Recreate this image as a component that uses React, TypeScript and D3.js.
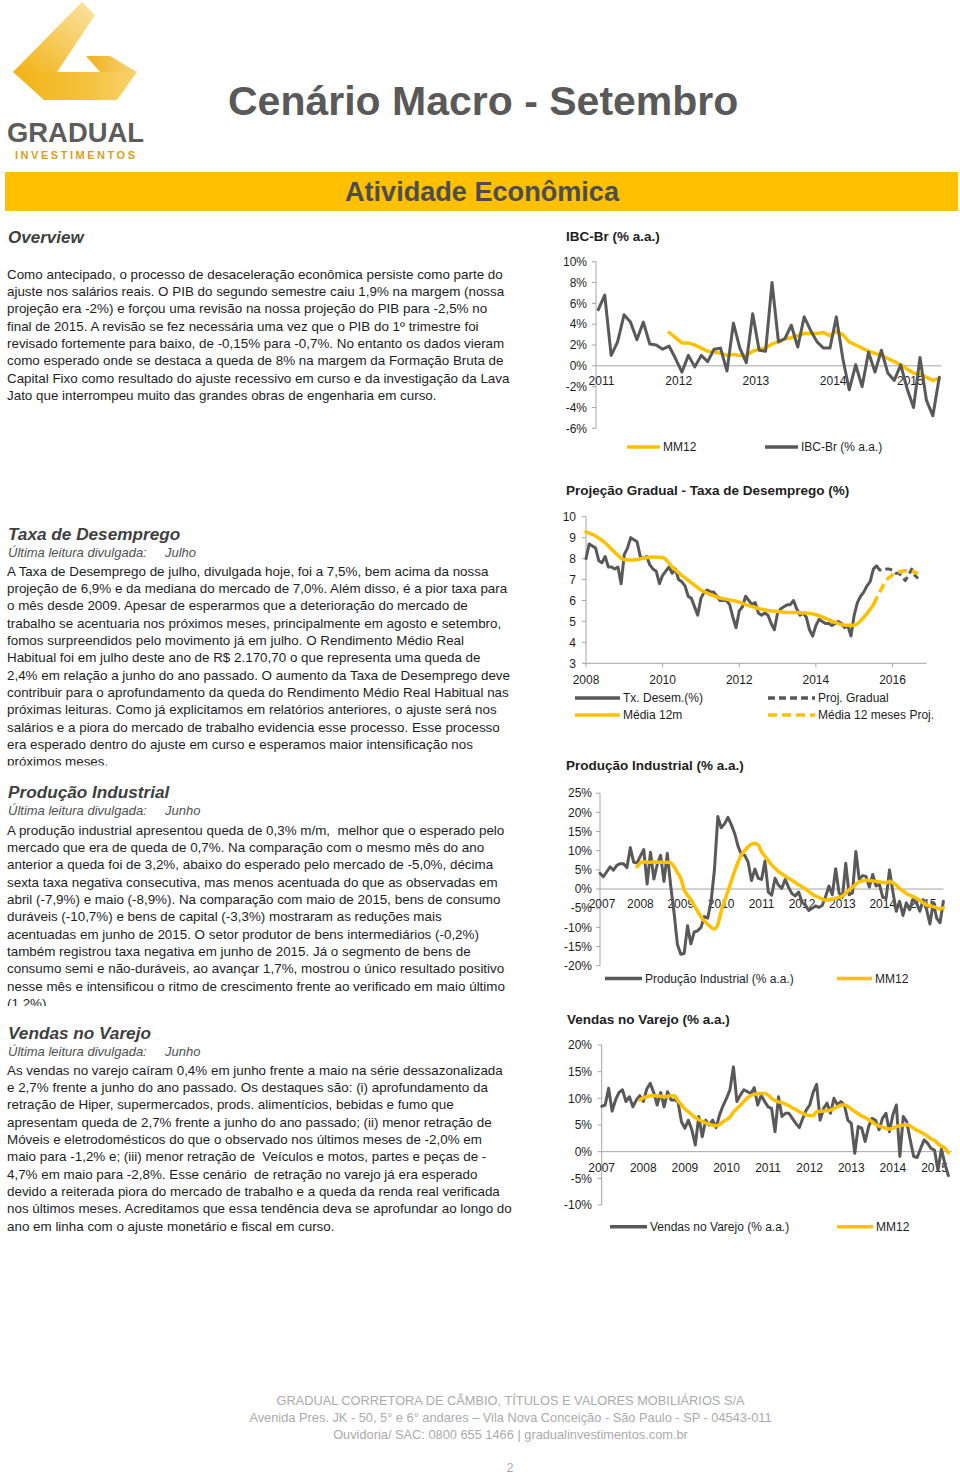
import React from 'react';
import * as d3 from 'd3';

const FONT = "'Liberation Sans', Arial, Helvetica, sans-serif";
const DARK = '#595959';
const GOLD = '#FFC000';
const AXIS = '#a6a6a6';
const TXT = '#1e1e1e';
const HEAD = '#404040';

// ---------------- DATA ----------------
// IBC-Br (% a.a.), monthly from Jan 2011
const ibcYears = ['2011', '2012', '2013', '2014', '2015'];
const ibcTicks = [10, 8, 6, 4, 2, 0, -2, -4, -6];
const ibcValues = [5.4, 6.8, 1.0, 2.3, 4.9, 4.2, 2.5, 4.2, 2.1, 2.0, 1.6, 1.9, 0.7, -0.6, 1.0, -0.1, 1.0, 0.4, 1.6, 1.7,
  -0.5, 4.1, 1.7, 0.3, 5.0, 1.5, 1.4, 8.0, 2.3, 2.6, 3.9, 1.8, 4.7, 3.4, 2.3, 1.7, 1.7, 4.7, 0.7, -2.3,
  0.1, -2.0, 1.3, -0.6, 1.5, -0.7, -1.4, 0.1, -2.2, -4.0, 0.8, -3.3, -4.8, -1.1];
const ibcMM12Start = 11;
const ibcMM12 = [3.2, 2.7, 2.2, 2.2, 2.0, 1.7, 1.4, 1.35, 1.2, 1.0, 1.1, 1.0, 1.0, 1.4, 1.6, 1.7, 2.1, 2.3, 2.6, 2.7,
  2.9, 3.1, 3.1, 3.1, 3.2, 2.9, 3.3, 3.0, 2.3, 2.0, 1.7, 1.4, 1.2, 1.0, 0.7, 0.4, 0.1, -0.3, -0.7, -0.8,
  -1.1, -1.4, -1.2];

// Taxa de desemprego, monthly from Jan 2008
const desYears = ['2008', '2010', '2012', '2014', '2016'];
const desTicks = [10, 9, 8, 7, 6, 5, 4, 3];
const desValues = [
  8.0, 8.7, 8.6, 8.5, 7.9, 7.8, 8.1, 7.6, 7.6, 7.5, 7.6, 6.8,
  8.2, 8.5, 9.0, 8.9, 8.8, 8.1, 8.0, 8.1, 7.7, 7.5, 7.4, 6.8,
  7.2, 7.4, 7.6, 7.3, 7.5, 7.0, 6.9, 6.7, 6.2, 6.1, 5.7, 5.3,
  6.1, 6.4, 6.5, 6.4, 6.4, 6.2, 6.0, 6.0, 6.0, 5.8, 5.2, 4.7,
  5.5, 5.7, 6.2, 6.0, 5.8, 5.9, 5.4, 5.3, 5.4, 5.3, 4.9, 4.6,
  5.4, 5.6, 5.7, 5.8, 5.8, 6.0, 5.6, 5.3, 5.4, 5.2, 4.6, 4.3,
  4.8, 5.1, 5.0, 4.9, 4.9, 4.8, 4.9, 5.0, 4.9, 4.7, 4.8, 4.3,
  5.3, 5.9, 6.2, 6.4, 6.7, 6.9, 7.5, 7.65];
const desProjStart = 91;
const desProj = [7.65, 7.45, 7.45, 7.5, 7.5, 7.45, 7.3, 7.3, 7.15, 6.95, 7.2, 7.5, 7.2, 7.05];
const desMediaStep = 3; // one value every 3 months from Jan 2008
const desMedia = [9.28, 9.08, 8.75, 8.3, 7.95, 7.93, 8.02, 8.07, 8.05, 7.6, 7.2, 6.85, 6.5, 6.28, 6.12, 6.03,
  5.92, 5.75, 5.62, 5.52, 5.47, 5.43, 5.42, 5.4, 5.32, 5.15, 4.95, 4.82, 4.82, 5.2, 5.8];
const desMediaProjStart = 90;
const desMediaProjStep = 2;
const desMediaProj = [5.8, 6.4, 6.95, 7.22, 7.36, 7.42, 7.4, 7.28];

// Produção industrial (% a.a.), monthly from Jan 2007
const ipYears = ['2007', '2008', '2009', '2010', '2011', '2012', '2013', '2014', '2015'];
const ipTicks = [25, 20, 15, 10, 5, 0, -5, -10, -15, -20];
const ipValues = [
  4.1, 3.2, 4.5, 5.8, 4.9, 6.2, 6.6, 6.6, 5.6, 10.8, 7.0, 6.8,
  8.6, 10.3, 1.3, 9.6, 2.6, 6.4, 8.8, 2.0, 9.3, 0.8, -6.2, -14.5,
  -17.0, -16.8, -9.6, -14.3, -11.2, -10.9, -10.0, -7.2, -7.6, -3.2, 5.1, 18.9,
  16.0, 17.0, 18.7, 16.8, 14.5, 11.2, 9.0, 8.8, 7.0, 2.2, 5.2, 2.8,
  2.5, 7.3, -0.8, -1.6, 2.8, 1.0, 0.2, 2.5, 0.5, -1.2, -1.8, -0.8,
  -3.4, -4.2, -5.6, -5.0, -4.4, -4.8, -4.3, -2.0, 0.8, -1.5, 5.3, -1.0,
  -2.2, 6.7, -1.5, -1.0, 9.8, 2.5, 3.5, 3.3, 0.5, 3.8, 0.8, 1.2,
  -2.2, -2.3, 5.0, -0.8, -5.8, -3.2, -6.9, -3.6, -5.4, -2.5, -3.6, -5.8,
  -2.8, -5.3, -9.1, -3.5, -7.6, -8.8, -3.2];
const ipMM12Start = 11;
const ipMM12 = [5.8, 6.8, 7.1, 7.0, 7.0, 7.1, 7.0, 7.0, 7.0, 7.0, 6.8, 5.8, 4.3,
  2.8, -0.2, -1.6, -2.8, -4.3, -5.8, -7.2, -8.3, -9.2, -10.0, -10.4, -9.2,
  -5.8, -3.1, -0.5, 2.1, 4.7, 7.0, 8.9, 10.1, 11.0, 11.7, 11.9, 11.5,
  9.7, 8.6, 7.4, 6.3, 5.4, 4.6, 4.0, 3.4, 2.8, 2.3, 1.7, 1.1,
  0.6, 0.0, -0.6, -1.3, -1.8, -2.2, -2.6, -2.9, -2.8, -2.6, -2.4, -2.2,
  -1.8, -1.1, -0.2, 0.5, 1.2, 1.9, 2.1, 2.3, 2.2, 2.1, 2.0, 1.9,
  1.7, 1.6, 2.0, 1.6, 1.0, 0.1, -0.5, -1.2, -1.6, -2.0, -2.4, -2.9,
  -3.6, -4.2, -4.4, -4.6, -4.9, -5.2, -4.9];

// Vendas no varejo (% a.a.), monthly from Jan 2007
const vYears = ['2007', '2008', '2009', '2010', '2011', '2012', '2013', '2014', '2015'];
const vTicks = [20, 15, 10, 5, 0, -5, -10];
const vValues = [
  8.5, 8.75, 11.9, 7.6, 9.7, 11.1, 11.6, 9.4, 10.3, 8.4, 9.7, 10.5,
  9.4, 11.75, 12.8, 11.1, 8.75, 11.1, 8.4, 11.25, 9.7, 9.7, 9.4, 5.6,
  4.4, 5.9, 4.1, 1.25, 6.6, 2.8, 5.9, 5.0, 5.9, 4.5, 6.9, 8.6,
  10.0, 11.6, 15.9, 9.4, 10.6, 11.6, 11.25, 10.9, 12.0, 8.75, 10.6, 9.4,
  8.4, 8.1, 3.75, 10.3, 6.6, 7.2, 7.2, 6.25, 5.3, 4.5, 6.25, 7.8,
  8.75, 11.1, 12.6, 5.9, 8.1, 9.1, 7.2, 10.0, 8.75, 9.4, 8.75, 5.9,
  5.3, -0.3, 4.7, 4.4, 1.9, 4.7, 6.25, 5.9, 4.1, 6.25, 7.2, 3.75,
  6.9, 8.75, -0.9, 6.6, 5.6, 2.2, -0.9, -1.1, 0.6, 2.2, 1.6, 0.6,
  0.3, -3.5, 0.5, -2.3, -4.5];
const vMM12Start = 11;
const vMM12 = [9.7, 10.1, 10.3, 10.5, 10.5, 10.5, 10.4, 10.3, 10.4, 10.5,
  10.5, 9.5, 8.8, 8.0, 7.5, 6.9, 6.4, 6.0, 5.7, 5.4,
  5.2, 4.95, 4.9, 5.1, 5.6, 6.0, 6.5, 7.4, 8.1, 8.7,
  9.4, 10.1, 10.5, 10.7, 10.9, 10.9, 10.9, 10.6, 10.0, 9.6,
  9.35, 9.2, 8.9, 8.6, 8.2, 7.9, 7.5, 7.2, 6.9, 6.8,
  6.8, 7.5, 7.55, 7.6, 7.7, 7.8, 8.1, 8.4, 8.7, 8.8,
  8.5, 8.0, 7.5, 7.1, 6.7, 6.4, 6.0, 5.6, 5.1, 4.8,
  4.6, 4.4, 4.25, 4.4, 4.7, 4.9, 5.0, 5.1, 4.8, 4.4,
  4.0, 3.7, 3.3, 2.9, 2.4, 2.1, 1.5, 1.0, 0.7, -0.2];

// ---------------- TEXT ----------------
const overviewLines = [
  'Como antecipado, o processo de desaceleração econômica persiste como parte do',
  'ajuste nos salários reais. O PIB do segundo semestre caiu 1,9% na margem (nossa',
  'projeção era -2%) e forçou uma revisão na nossa projeção do PIB para -2,5% no',
  'final de 2015. A revisão se fez necessária uma vez que o PIB do 1º trimestre foi',
  'revisado fortemente para baixo, de -0,15% para -0,7%. No entanto os dados vieram',
  'como esperado onde se destaca a queda de 8% na margem da Formação Bruta de',
  'Capital Fixo como resultado do ajuste recessivo em curso e da investigação da Lava',
  'Jato que interrompeu muito das grandes obras de engenharia em curso.',
];
const taxaLines = [
  'A Taxa de Desemprego de julho, divulgada hoje, foi a 7,5%, bem acima da nossa',
  'projeção de 6,9% e da mediana do mercado de 7,0%. Além disso, é a pior taxa para',
  'o mês desde 2009. Apesar de esperarmos que a deterioração do mercado de',
  'trabalho se acentuaria nos próximos meses, principalmente em agosto e setembro,',
  'fomos surpreendidos pelo movimento já em julho. O Rendimento Médio Real',
  'Habitual foi em julho deste ano de R$ 2.170,70 o que representa uma queda de',
  '2,4% em relação a junho do ano passado. O aumento da Taxa de Desemprego deve',
  'contribuir para o aprofundamento da queda do Rendimento Médio Real Habitual nas',
  'próximas leituras. Como já explicitamos em relatórios anteriores, o ajuste será nos',
  'salários e a piora do mercado de trabalho evidencia esse processo. Esse processo',
  'era esperado dentro do ajuste em curso e esperamos maior intensificação nos',
  'próximos meses.',
];
const ipLines = [
  'A produção industrial apresentou queda de 0,3% m/m,  melhor que o esperado pelo',
  'mercado que era de queda de 0,7%. Na comparação com o mesmo mês do ano',
  'anterior a queda foi de 3,2%, abaixo do esperado pelo mercado de -5,0%, décima',
  'sexta taxa negativa consecutiva, mas menos acentuada do que as observadas em',
  'abril (-7,9%) e maio (-8,9%). Na comparação com maio de 2015, bens de consumo',
  'duráveis (-10,7%) e bens de capital (-3,3%) mostraram as reduções mais',
  'acentuadas em junho de 2015. O setor produtor de bens intermediários (-0,2%)',
  'também registrou taxa negativa em junho de 2015. Já o segmento de bens de',
  'consumo semi e não-duráveis, ao avançar 1,7%, mostrou o único resultado positivo',
  'nesse mês e intensificou o ritmo de crescimento frente ao verificado em maio último',
  '(1,2%).',
];
const varejoLines = [
  'As vendas no varejo caíram 0,4% em junho frente a maio na série dessazonalizada',
  'e 2,7% frente a junho do ano passado. Os destaques são: (i) aprofundamento da',
  'retração de Hiper, supermercados, prods. alimentícios, bebidas e fumo que',
  'apresentam queda de 2,7% frente a junho do ano passado; (ii) menor retração de',
  'Móveis e eletrodomésticos do que o observado nos últimos meses de -2,0% em',
  'maio para -1,2% e; (iii) menor retração de  Veículos e motos, partes e peças de -',
  '4,7% em maio para -2,8%. Esse cenário  de retração no varejo já era esperado',
  'devido a reiterada piora do mercado de trabalho e a queda da renda real verificada',
  'nos últimos meses. Acreditamos que essa tendência deva se aprofundar ao longo do',
  'ano em linha com o ajuste monetário e fiscal em curso.',
];
const footerLines = [
  'GRADUAL CORRETORA DE CÂMBIO, TÍTULOS E VALORES MOBILIÁRIOS S/A',
  'Avenida Pres. JK - 50, 5° e 6° andares – Vila Nova Conceição - São Paulo - SP - 04543-011',
  'Ouvidoria/ SAC: 0800 655 1466 | gradualinvestimentos.com.br',
];

// ---------------- HELPERS ----------------
type Sc = d3.ScaleLinear<number, number>;

function Series({ values, start, step = 1, x, y, color, width, dash, curve }:
  { values: number[]; start: number; step?: number; x: Sc; y: Sc; color: string; width: number; dash?: string; curve?: boolean }) {
  const gen = d3.line<number>().x((_, i) => x(start + i * step)).y((d) => y(d));
  if (curve) gen.curve(d3.curveMonotoneX);
  return <path d={gen(values) || ''} fill="none" stroke={color} strokeWidth={width} strokeDasharray={dash}
    strokeLinejoin="round" strokeLinecap={dash ? 'butt' : 'round'} />;
}

function YAxis({ x, y, ticks, fmt, labelX }: { x: number; y: Sc; ticks: number[]; fmt: (v: number) => string; labelX: number }) {
  const [a, b] = d3.extent(ticks) as [number, number];
  return (
    <g>
      <line x1={x} x2={x} y1={y(a)} y2={y(b)} stroke={AXIS} strokeWidth={1} />
      {ticks.map((t) => (
        <g key={t}>
          <line x1={x - 4} x2={x} y1={y(t)} y2={y(t)} stroke={AXIS} />
          <text x={labelX} y={y(t)} dy="0.35em" textAnchor="end" fontSize={12} fill={TXT}>{fmt(t)}</text>
        </g>
      ))}
    </g>
  );
}

function Legend({ items }: { items: { x1: number; x2: number; y: number; color: string; dash?: string; label: string }[] }) {
  return (
    <g>
      {items.map((it, k) => (
        <g key={k}>
          <line x1={it.x1} x2={it.x2} y1={it.y} y2={it.y} stroke={it.color} strokeWidth={3.5} strokeDasharray={it.dash} />
          <text x={it.x2 + 3} y={it.y} dy="0.36em" fontSize={12} fill={TXT}>{it.label}</text>
        </g>
      ))}
    </g>
  );
}

function Para({ lines, x, y0, lh = 17.35 }: { lines: string[]; x: number; y0: number; lh?: number }) {
  return (
    <g>
      {lines.map((l, i) => (
        <text key={i} x={x} y={y0 + i * lh} fontSize={13.4} fill={TXT} style={{ whiteSpace: 'pre' }}>{l}</text>
      ))}
    </g>
  );
}

function Section({ title, month, y, monthX = 165 }: { title: string; month: string; y: number; monthX?: number }) {
  return (
    <g>
      <text x={8} y={y} fontSize={17.2} fontWeight="bold" fontStyle="italic" fill={HEAD}>{title}</text>
      <text x={8} y={y + 17} fontSize={13} fontStyle="italic" fill="#505050">Última leitura divulgada:</text>
      <text x={monthX} y={y + 17} fontSize={13} fontStyle="italic" fill="#505050">{month}</text>
    </g>
  );
}

// ---------------- SCALES ----------------
const ibcX = d3.scaleLinear().domain([0, 53]).range([598.3, 939.3]);
const ibcY = d3.scaleLinear().domain([-6, 10]).range([428.3, 261.7]);
const desX = d3.scaleLinear().domain([0, 96]).range([586, 892.5]);
const desY = d3.scaleLinear().domain([3, 10]).range([663.3, 516.7]);
const ipX = d3.scaleLinear().domain([0, 96]).range([600, 923.2]);
const ipY = d3.scaleLinear().domain([-20, 25]).range([965.7, 793.2]);
const vX = d3.scaleLinear().domain([0, 96]).range([601.7, 934.5]);
const vY = d3.scaleLinear().domain([-10, 20]).range([1205, 1045]);

const pct = (v: number) => `${v}%`;

export default function App() {
  return (
    <div style={{ position: 'absolute', left: 0, top: 0, width: 960, height: 1474, background: '#fff' }}>
      <svg width={960} height={1474} style={{ display: 'block', fontFamily: FONT }}>
        <defs>
          <linearGradient id="gDiag" x1="0" y1="1" x2="1" y2="0">
            <stop offset="0" stopColor="#F2B214" />
            <stop offset="1" stopColor="#FBE4A4" />
          </linearGradient>
          <linearGradient id="gBand" x1="0" y1="0" x2="1" y2="0">
            <stop offset="0" stopColor="#F2B316" />
            <stop offset="0.6" stopColor="#F5C23D" />
            <stop offset="1" stopColor="#F9D36F" />
          </linearGradient>
          <linearGradient id="gSmall" x1="0" y1="0" x2="1" y2="0">
            <stop offset="0" stopColor="#F1B01C" />
            <stop offset="1" stopColor="#F8D277" />
          </linearGradient>
          <clipPath id="clipTaxa"><rect x={0} y={520} width={540} height={245.5} /></clipPath>
          <clipPath id="clipIP"><rect x={0} y={780} width={540} height={226} /></clipPath>
        </defs>

        {/* Logo */}
        <polygon points="13,72 137,72 117,100 44,100" fill="url(#gBand)" />
        <polygon points="82,2 95,15 57,72 13,72" fill="url(#gDiag)" />
        <polygon points="86,56 110,56 137,72 100,72" fill="url(#gSmall)" />
        <text x={7} y={142} fontSize={28} fontWeight="bold" fill="#5c5c5c" textLength={137} lengthAdjust="spacingAndGlyphs">GRADUAL</text>
        <text x={15} y={159} fontSize={11} fontWeight="bold" fill="#D6A21A" textLength={120} lengthAdjust="spacing">INVESTIMENTOS</text>

        {/* Title */}
        <text x={228} y={115} fontSize={41} fontWeight="bold" fill={DARK}>Cenário Macro - Setembro</text>

        {/* Band */}
        <rect x={5} y={172} width={953} height={39} fill="#FFC000" />
        <text x={482} y={201} fontSize={28} fontWeight="bold" fill="#4d4d4d" textAnchor="middle"
          textLength={274} lengthAdjust="spacingAndGlyphs"
          style={{ fontFamily: "'Liberation Sans Narrow', 'Arial Narrow', 'Liberation Sans', Arial, sans-serif" }}>Atividade Econômica</text>

        {/* Overview */}
        <text x={8} y={243} fontSize={17} fontWeight="bold" fontStyle="italic" fill={HEAD}>Overview</text>
        <Para lines={overviewLines} x={7} y0={278.5} />

        {/* Taxa de desemprego text */}
        <Section title="Taxa de Desemprego" month="Julho" y={540} />
        <g clipPath="url(#clipTaxa)"><Para lines={taxaLines} x={7} y0={575.5} /></g>

        {/* Produção industrial text */}
        <Section title="Produção Industrial" month="Junho" y={798} />
        <g clipPath="url(#clipIP)"><Para lines={ipLines} x={7} y0={834.5} /></g>

        {/* Vendas text */}
        <Section title="Vendas no Varejo" month="Junho" y={1039} />
        <Para lines={varejoLines} x={7} y0={1074.5} />

        {/* ---------- IBC-Br chart ---------- */}
        <text x={566} y={241} fontSize={13.5} fontWeight="bold" fill={TXT}>IBC-Br (% a.a.)</text>
        <YAxis x={596} y={ibcY} ticks={ibcTicks} fmt={pct} labelX={587} />
        <line x1={596} x2={941.7} y1={ibcY(0)} y2={ibcY(0)} stroke={AXIS} />
        {ibcYears.map((yr, k) => (
          <text key={yr} x={ibcX(12 * k + 0.5)} y={384.5} textAnchor="middle" fontSize={12} fill={TXT}>{yr}</text>
        ))}
        <Series values={ibcMM12} start={ibcMM12Start} x={ibcX} y={ibcY} color={GOLD} width={3.5} />
        <Series values={ibcValues} start={0} x={ibcX} y={ibcY} color={DARK} width={3} />
        <Legend items={[
          { x1: 627, x2: 660, y: 447, color: GOLD, label: 'MM12' },
          { x1: 765, x2: 798, y: 447, color: DARK, label: 'IBC-Br (% a.a.)' },
        ]} />

        {/* ---------- Desemprego chart ---------- */}
        <text x={566} y={495} fontSize={13.5} fontWeight="bold" fill={TXT}>Projeção Gradual - Taxa de Desemprego (%)</text>
        <YAxis x={586} y={desY} ticks={desTicks} fmt={(v) => `${v}`} labelX={576} />
        <line x1={586} x2={desX(106.7)} y1={desY(3)} y2={desY(3)} stroke={AXIS} />
        {desYears.map((yr, k) => (
          <g key={yr}>
            <line x1={desX(24 * k)} x2={desX(24 * k)} y1={desY(3)} y2={desY(3) + 4} stroke={AXIS} />
            <text x={desX(24 * k)} y={684.3} textAnchor="middle" fontSize={12} fill={TXT}>{yr}</text>
          </g>
        ))}
        <Series values={desValues} start={0} x={desX} y={desY} color={DARK} width={3} />
        <Series values={desProj} start={desProjStart} x={desX} y={desY} color={DARK} width={3} dash="7,4" />
        <Series values={desMedia} start={0} step={desMediaStep} x={desX} y={desY} color={GOLD} width={3.5} curve />
        <Series values={desMediaProj} start={desMediaProjStart} step={desMediaProjStep} x={desX} y={desY} color={GOLD} width={3.5} dash="9,5" curve />
        <Legend items={[
          { x1: 575, x2: 620, y: 698, color: DARK, label: 'Tx. Desem.(%)' },
          { x1: 768, x2: 815, y: 698, color: DARK, dash: '7,4', label: 'Proj. Gradual' },
          { x1: 575, x2: 620, y: 715, color: GOLD, label: 'Média 12m' },
          { x1: 768, x2: 815, y: 715, color: GOLD, dash: '9,5', label: 'Média 12 meses Proj.' },
        ]} />

        {/* ---------- Produção industrial chart ---------- */}
        <text x={566} y={770} fontSize={13.5} fontWeight="bold" fill={TXT}>Produção Industrial (% a.a.)</text>
        <YAxis x={600} y={ipY} ticks={ipTicks} fmt={pct} labelX={592} />
        <line x1={600} x2={943.5} y1={ipY(0)} y2={ipY(0)} stroke={AXIS} />
        {ipYears.map((yr, k) => (
          <text key={yr} x={ipX(12 * k) + (k === 0 ? 2 : 0)} y={907.5} textAnchor="middle" fontSize={12} fill={TXT}>{yr}</text>
        ))}
        <Series values={ipValues} start={0} x={ipX} y={ipY} color={DARK} width={3} />
        <Series values={ipMM12} start={ipMM12Start} x={ipX} y={ipY} color={GOLD} width={3.5} curve />
        <Legend items={[
          { x1: 605, x2: 642, y: 978.5, color: DARK, label: 'Produção Industrial (% a.a.)' },
          { x1: 837, x2: 872, y: 978.5, color: GOLD, label: 'MM12' },
        ]} />

        {/* ---------- Vendas no varejo chart ---------- */}
        <text x={567} y={1024} fontSize={13.5} fontWeight="bold" fill={TXT}>Vendas no Varejo (% a.a.)</text>
        <YAxis x={601.7} y={vY} ticks={vTicks} fmt={pct} labelX={592} />
        <line x1={601.7} x2={951.7} y1={vY(0)} y2={vY(0)} stroke={AXIS} />
        {vYears.map((yr, k) => (
          <text key={yr} x={vX(12 * k)} y={1171.5} textAnchor="middle" fontSize={12} fill={TXT}>{yr}</text>
        ))}
        <Series values={vValues} start={0} x={vX} y={vY} color={DARK} width={3} />
        <Series values={vMM12} start={vMM12Start} x={vX} y={vY} color={GOLD} width={3.5} curve />
        <Legend items={[
          { x1: 610, x2: 647, y: 1226.7, color: DARK, label: 'Vendas no Varejo (% a.a.)' },
          { x1: 837, x2: 873, y: 1226.7, color: GOLD, label: 'MM12' },
        ]} />

        {/* Footer */}
        {footerLines.map((l, i) => (
          <text key={i} x={510.5} y={1404.5 + i * 17} textAnchor="middle" fontSize={12.8} fill="#ababab">{l}</text>
        ))}
        <text x={510} y={1471.5} textAnchor="middle" fontSize={12.8} fill="#ababab">2</text>
      </svg>
    </div>
  );
}
